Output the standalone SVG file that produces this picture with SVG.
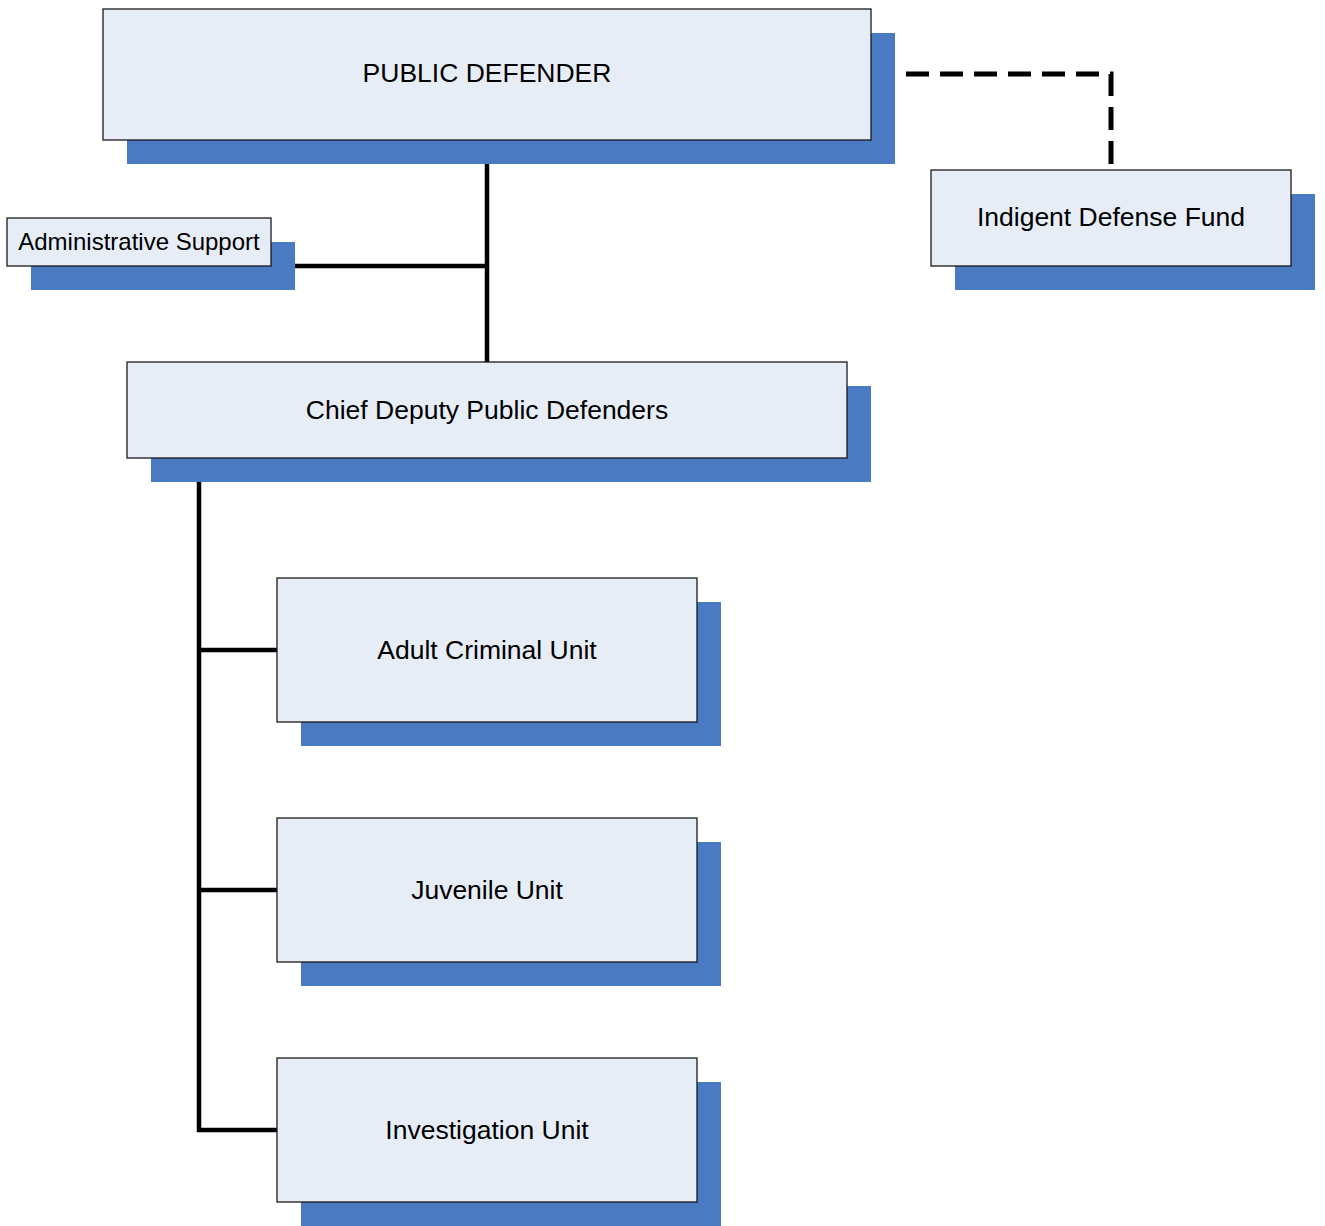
<svg xmlns="http://www.w3.org/2000/svg" width="1325" height="1226" viewBox="0 0 1325 1226">
<style>
.sh{fill:#4A7AC2}
.bx{fill:#E7EDF7;stroke:#1a1a1a;stroke-width:1.3}
.t{font-family:"Liberation Sans",Arial,sans-serif;font-size:26.5px;fill:#000;text-anchor:middle}
.ts{font-size:24px}
.ln{fill:none;stroke:#000;stroke-width:4.5}
.dash{stroke-width:5;stroke-dasharray:23 11}
</style>
<rect width="1325" height="1226" fill="#fff"/>
<g id="connectors">
<path class="ln" d="M487,164 V362"/>
<path class="ln" d="M295,266 H487"/>
<path class="ln" d="M199,482 V1130 H277"/>
<path class="ln" d="M199,650 H277"/>
<path class="ln" d="M199,890 H277"/>
<path class="ln dash" d="M906,74 H1111 V170"/>
</g>
<g id="public-defender">
<rect class="sh" x="127" y="33" width="768" height="131"/>
<rect class="bx" x="103" y="9" width="768" height="131"/>
<text class="t" x="487" y="82">PUBLIC DEFENDER</text>
</g>
<g id="indigent-defense-fund">
<rect class="sh" x="955" y="194" width="360" height="96"/>
<rect class="bx" x="931" y="170" width="360" height="96"/>
<text class="t" x="1111" y="226">Indigent Defense Fund</text>
</g>
<g id="administrative-support">
<rect class="sh" x="31" y="242" width="264" height="48"/>
<rect class="bx" x="7" y="218" width="264" height="48"/>
<text class="t ts" x="139" y="250">Administrative Support</text>
</g>
<g id="chief-deputy">
<rect class="sh" x="151" y="386" width="720" height="96"/>
<rect class="bx" x="127" y="362" width="720" height="96"/>
<text class="t" x="487" y="419">Chief Deputy Public Defenders</text>
</g>
<g id="adult-criminal-unit">
<rect class="sh" x="301" y="602" width="420" height="144"/>
<rect class="bx" x="277" y="578" width="420" height="144"/>
<text class="t" x="487" y="659">Adult Criminal Unit</text>
</g>
<g id="juvenile-unit">
<rect class="sh" x="301" y="842" width="420" height="144"/>
<rect class="bx" x="277" y="818" width="420" height="144"/>
<text class="t" x="487" y="899">Juvenile Unit</text>
</g>
<g id="investigation-unit">
<rect class="sh" x="301" y="1082" width="420" height="144"/>
<rect class="bx" x="277" y="1058" width="420" height="144"/>
<text class="t" x="487" y="1139">Investigation Unit</text>
</g>
</svg>
